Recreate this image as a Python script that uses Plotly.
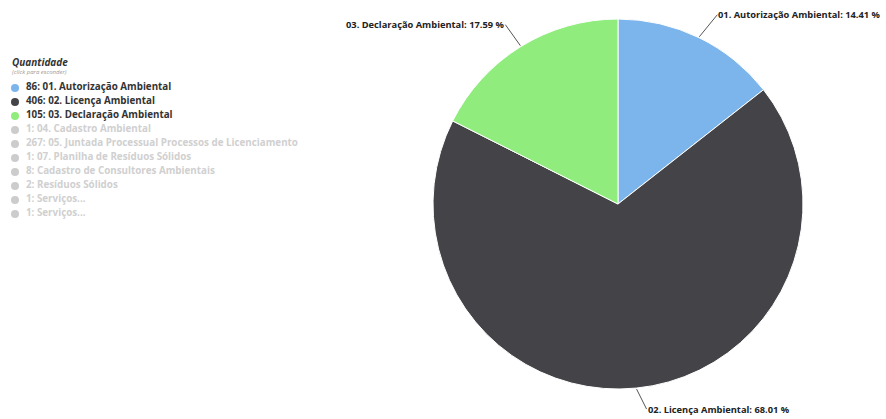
import math
import plotly.graph_objects as go

# ---- data ----
slice_labels = ["01. Autorização Ambiental", "02. Licença Ambiental", "03. Declaração Ambiental"]
slice_values = [86, 406, 105]
slice_colors = ["#7cb5ec", "#434348", "#90ed7d"]

legend_labels = [
    "86: 01. Autorização Ambiental",
    "406: 02. Licença Ambiental",
    "105: 03. Declaração Ambiental",
    "1: 04. Cadastro Ambiental",
    "267: 05. Juntada Processual Processos de Licenciamento",
    "1: 07. Planilha de Resíduos Sólidos",
    "8: Cadastro de Consultores Ambientais",
    "2: Resíduos Sólidos",
    "1: Serviços...",
    "1: Serviços...",
]
legend_visible = [True, True, True, False, False, False, False, False, False, False]

W, H = 886, 419
FONT = "Open Sans"

# ---- pie geometry (layout) ----
px_left, px_right, px_top, px_bottom = 433, 803, 18, 390
cx, cy = (px_left + px_right) / 2, (px_top + px_bottom) / 2
R = (px_bottom - px_top) / 2

fig = go.Figure()
fig.add_trace(go.Pie(
    labels=slice_labels, values=slice_values, sort=False,
    direction="clockwise", rotation=0,
    marker=dict(colors=slice_colors, line=dict(color="#ffffff", width=1)),
    textinfo="none", hoverinfo="label+percent", showlegend=False,
    domain=dict(x=[px_left / W, px_right / W], y=[1 - px_bottom / H, 1 - px_top / H]),
))

# data labels with connectors (offsets of label from slice edge, in px)
label_offsets = [(18, -22, "left"), (10, 20, "left"), (-15, -21, "right")]
total = sum(slice_values)
cum = 0
annotations = []
for lab, val, (ax, ay, anchor) in zip(slice_labels, slice_values, label_offsets):
    mid = (cum + val / 2) / total * 2 * math.pi
    cum += val
    ex = cx + R * math.sin(mid)
    ey = cy - R * math.cos(mid)
    annotations.append(dict(
        x=ex / W, y=1 - ey / H, xref="paper", yref="paper",
        ax=ax, ay=ay, axref="pixel", ayref="pixel",
        text=f"<b>{lab}: {val / total * 100:.2f} %</b>",
        showarrow=True, arrowhead=0, arrowwidth=1, arrowcolor="#555555",
        xanchor=anchor, yanchor="middle",
        font=dict(family=FONT, size=9.3, color="#222222"),
        borderpad=0,
    ))

# ---- manual legend ----
idx = list(range(len(legend_labels)))
mcolors = []
tcolors = []
ci = 0
for v in legend_visible:
    if v:
        mcolors.append(slice_colors[ci]); tcolors.append("#333333"); ci += 1
    else:
        mcolors.append("#cccccc"); tcolors.append("#d0d0d0")

fig.add_trace(go.Scatter(
    x=[0] * len(idx), y=idx, mode="markers",
    marker=dict(size=8, color=mcolors), hoverinfo="skip", showlegend=False,
    xaxis="x", yaxis="y",
))
fig.add_trace(go.Scatter(
    x=[11] * len(idx), y=idx, mode="text",
    text=[f"<b>{t}</b>" for t in legend_labels], textposition="middle right",
    textfont=dict(family=FONT, size=9.8, color=tcolors),
    hoverinfo="skip", showlegend=False, xaxis="x", yaxis="y",
))

leg_x0, leg_y0, leg_step = 15, 88, 14
dom_w = 0.45 * W
annotations.append(dict(x=10 / W, y=1 - 62 / H, xref="paper", yref="paper",
                        text="<b><i>Quantidade</i></b>", showarrow=False,
                        xanchor="left", yanchor="middle",
                        font=dict(family=FONT, size=10, color="#333333")))
annotations.append(dict(x=10 / W, y=1 - 72 / H, xref="paper", yref="paper",
                        text="<i>(click para esconder)</i>", showarrow=False,
                        xanchor="left", yanchor="middle",
                        font=dict(family=FONT, size=6, color="#999999")))

fig.update_layout(
    width=W, height=H, margin=dict(l=0, r=0, t=0, b=0),
    paper_bgcolor="#ffffff", plot_bgcolor="rgba(0,0,0,0)",
    xaxis=dict(domain=[0, 0.45], range=[-leg_x0, dom_w - leg_x0], visible=False, fixedrange=True),
    yaxis=dict(domain=[0, 1], range=[(H - leg_y0) / leg_step, -leg_y0 / leg_step], visible=False, fixedrange=True),
    annotations=annotations,
    showlegend=False,
)

fig.write_html(
    "out.html",
    config={"displayModeBar": False},
    post_script="document.body.style.margin='0px';document.body.style.overflow='hidden';",
)
